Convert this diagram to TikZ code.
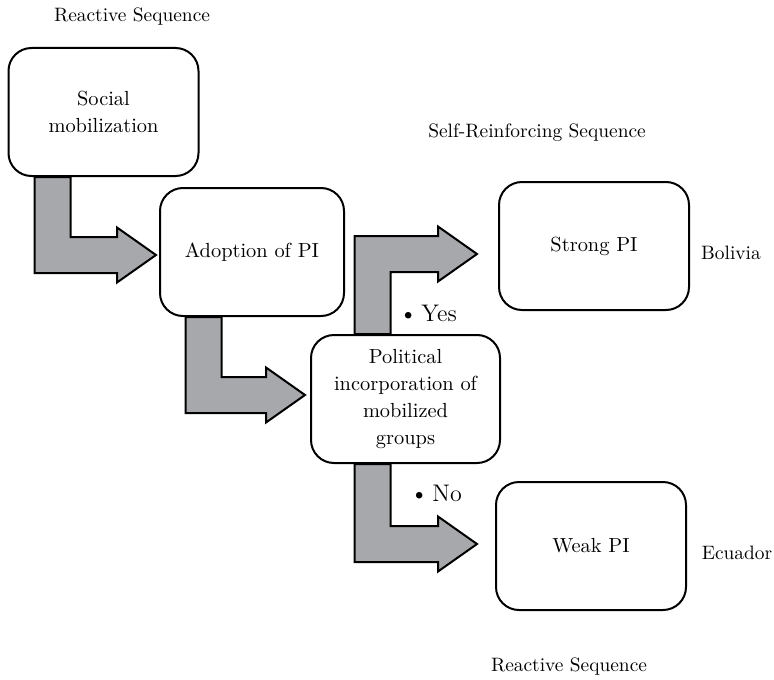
\documentclass[tikz,border=0pt]{standalone}
\usepackage{tikz}
\usetikzlibrary{calc}
\definecolor{arrowgray}{RGB}{167,168,172}
\newcommand{\shaftw}{9pt}
\newcommand{\headw}{13.75pt}
\newcommand{\headl}{19.5pt}
% bent block arrow: start point, tip point, +1 going up / -1 going down
\newcommand{\bentarrow}[3]{%
  \filldraw[blockarrow] let \p1=(#1), \p2=(#2) in
    ({\x1-\shaftw},\y1) -- ({\x1-\shaftw},{\y2+(#3)*\shaftw})
    -- ({\x2-\headl},{\y2+(#3)*\shaftw}) -- ({\x2-\headl},{\y2+(#3)*\headw})
    -- (\x2,\y2)
    -- ({\x2-\headl},{\y2-(#3)*\headw}) -- ({\x2-\headl},{\y2-(#3)*\shaftw})
    -- ({\x1+\shaftw},{\y2-(#3)*\shaftw}) -- ({\x1+\shaftw},\y1) -- cycle;
}

\begin{document}
\begin{tikzpicture}[x=0.5pt,y=-0.5pt,
    box/.style={draw, line width=1pt, rounded corners=11.5pt, fill=white,
      minimum width=95pt, minimum height=64pt, align=center,
      font=\fontsize{10.2}{13.5}\selectfont},
    caption/.style={font=\fontsize{9.7}{12}\selectfont},
    answer/.style={font=\fontsize{12}{14}\selectfont},
    blockarrow/.style={fill=arrowgray, draw=black, line width=1pt, line join=miter}]
\useasboundingbox (0,0) rectangle (774,679);

\node[caption] (topseq) at (132,17) {Reactive Sequence};
\node[caption] (selfseq) at (537,133) {Self-Reinforcing Sequence};
\node[caption] (botseq) at (569,667) {Reactive Sequence};

\node[box] (social) at (103.5,112) {Social\\mobilization};
\node[box, minimum width=92pt] (adopt) at (252,252) {Adoption of PI};
\node[box, minimum width=94.5pt] (polit) at (405.5,399) {Political\\incorporation of\\mobilized\\groups};
\node[box] (strong) at (594,246) {Strong PI};
\node[box] (weak) at (591,546) {Weak PI};

\node[caption] (bolivia) at (731,253) {Bolivia};
\node[caption] (ecuador) at (737,553) {Ecuador};
\node[answer] (yes) at (428,313) {\textbullet\,Yes};
\node[answer] (no) at (436,493) {\textbullet\,No};

\bentarrow{$(social.south)+(-51,0)$}{$(adopt.west)+(-3,3)$}{-1}
\bentarrow{$(adopt.south)+(-48.5,0)$}{$(polit.west)+(-5,-4)$}{-1}
\bentarrow{$(polit.north)+(-33,0)$}{$(strong.west)+(-21,8)$}{1}
\bentarrow{$(polit.south)+(-33,0)$}{$(weak.west)+(-18,-2)$}{-1}
\end{tikzpicture}
\end{document}
